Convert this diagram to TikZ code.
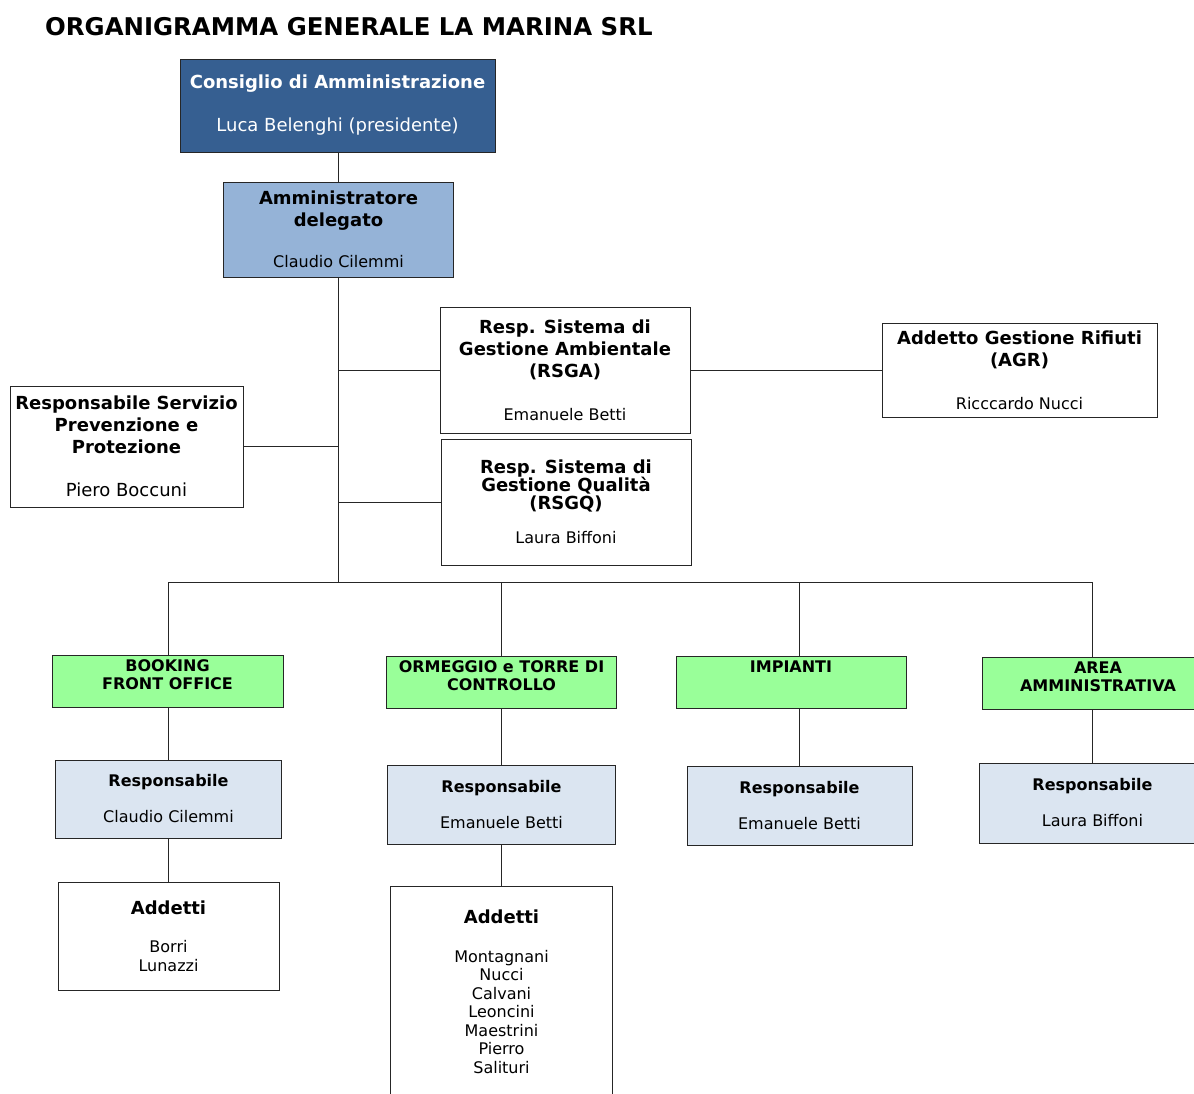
\documentclass[tikz,border=0pt]{standalone}
\usepackage{fontspec}
\setmainfont{DejaVu Sans}

\definecolor{cdablue}{HTML}{365F91}
\definecolor{adblue}{HTML}{95B3D7}
\definecolor{areagreen}{HTML}{99FF99}
\definecolor{respgray}{HTML}{DBE5F1}
\newcommand{\hdfont}{\fontsize{18}{22}\selectfont\bfseries}
\newcommand{\nmfont}{\fontsize{16}{18.5}\selectfont\mdseries}
\newcommand{\bignmfont}{\fontsize{18}{20}\selectfont\mdseries}

\begin{document}
\begin{tikzpicture}[x=1pt, y=-1pt,
  box/.style={draw=black!85, line width=0.9pt, align=center, inner sep=0pt, font=\hdfont},
  dirbox/.style={box, fill=cdablue, text=white},
  adbox/.style={box, fill=adblue},
  areabox/.style={box, fill=areagreen, font=\fontsize{16}{18}\selectfont\bfseries},
  respbox/.style={box, fill=respgray, font=\fontsize{16}{19}\selectfont\bfseries},
  staffbox/.style={box, font=\nmfont},
  link/.style={draw=black!85, line width=0.9pt}]
  \path[use as bounding box, clip] (0,0) rectangle (1194,1093);

  \node[anchor=base west, inner sep=0pt, font=\fontsize{24.4}{28}\selectfont\bfseries] (title) at (45,35)
    {ORGANIGRAMMA GENERALE LA MARINA SRL};

  \node[dirbox, minimum width=315, minimum height=93] (cda) at (337.5,105.5)
    {Consiglio di Amministrazione\\[21pt]{\bignmfont Luca Belenghi (presidente)}};
  \node[adbox, minimum width=230, minimum height=95] (ad) at (338.5,229.5)
    {Amministratore\\delegato\\[19pt]{\nmfont Claudio Cilemmi}};

  \node[box, minimum width=250, minimum height=126] (rsga) at (565,370.5)
    {Resp. Sistema di\\Gestione Ambientale\\(RSGA)\\[21pt]{\nmfont Emanuele Betti}};
  \node[box, minimum width=250, minimum height=126] (rsgq) at (566,502)
    {Resp. Sistema di\\[-4pt]Gestione Qualità\\[-4pt](RSGQ)\\[12pt]{\nmfont Laura Biffoni}};
  \node[box, minimum width=275, minimum height=94] (agr) at (1019.5,370.5)
    {Addetto Gestione Rifiuti\\(AGR)\\[21pt]{\nmfont Ricccardo Nucci}};
  \node[box, minimum width=233, minimum height=121] (rspp) at (126.5,446.5)
    {Responsabile Servizio\\Prevenzione e\\Protezione\\[21pt]{\bignmfont Piero Boccuni}};

  \node[areabox, minimum width=231, minimum height=52] (booking) at (167.5,681)
    {BOOKING\\FRONT OFFICE\rule[-12pt]{0pt}{0pt}};
  \node[areabox, minimum width=230, minimum height=52] (ormeggio) at (501.5,682)
    {ORMEGGIO e TORRE DI\\CONTROLLO\rule[-12pt]{0pt}{0pt}};
  \node[areabox, minimum width=230, minimum height=52] (impianti) at (791,682)
    {IMPIANTI\rule[-30pt]{0pt}{0pt}};
  \node[areabox, minimum width=232, minimum height=52] (area) at (1098,683)
    {AREA\\AMMINISTRATIVA\rule[-12pt]{0pt}{0pt}};

  \node[respbox, minimum width=226, minimum height=78] (respbook) at (168.5,799)
    {Responsabile\\[17pt]{\nmfont Claudio Cilemmi}};
  \node[respbox, minimum width=228, minimum height=79] (respormeg) at (501.5,804.5)
    {Responsabile\\[17pt]{\nmfont Emanuele Betti}};
  \node[respbox, minimum width=225, minimum height=79] (respimp) at (799.5,805.5)
    {Responsabile\\[17pt]{\nmfont Emanuele Betti}};
  \node[respbox, minimum width=226, minimum height=80] (resparea) at (1092.5,803)
    {Responsabile\\[17pt]{\nmfont Laura Biffoni}};

  \node[staffbox, minimum width=221, minimum height=108] (addbook) at (168.5,936)
    {{\hdfont Addetti}\\[20pt]Borri\\Lunazzi};
  \node[staffbox, minimum width=222, minimum height=212] (addormeg) at (501.5,992)
    {{\hdfont Addetti}\\[20pt]Montagnani\\Nucci\\Calvani\\Leoncini\\Maestrini\\Pierro\\Salituri};

  \coordinate (hub) at (338.5,582.5);
  \draw[link] (cda.south -| ad) -- (ad.north);
  \draw[link] (ad) -- (hub);
  \draw[link] (rspp.east) -- (rspp.east -| hub);
  \draw[link] (rsga.west) -- (rsga.west -| hub);
  \draw[link] (rsgq.west) -- (rsgq.west -| hub);
  \draw[link] (rsga) -- (agr);
  \draw[link] (booking.north -| respbook) |- (hub) -| (area.north -| resparea);
  \draw[link] (ormeggio.north) -- (ormeggio.north |- hub);
  \draw[link] (impianti.north -| respimp) -- (respimp |- hub);

  \draw[link] (booking.south -| respbook) -- (respbook.north);
  \draw[link] (ormeggio.south) -- (respormeg.north);
  \draw[link] (impianti.south -| respimp) -- (respimp.north);
  \draw[link] (area.south -| resparea) -- (resparea.north);
  \draw[link] (respbook) -- (addbook);
  \draw[link] (respormeg) -- (addormeg);
\end{tikzpicture}
\end{document}
